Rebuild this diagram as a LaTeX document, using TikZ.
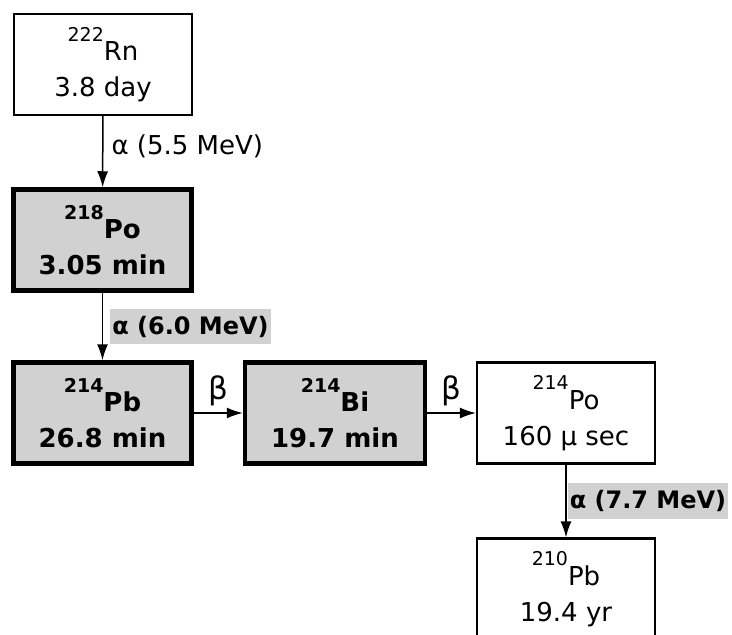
\documentclass[tikz,border=0pt]{standalone}
\usepackage{fontspec}
\setmainfont{DejaVu Sans}
\usetikzlibrary{arrows.meta,positioning}
\definecolor{decayshade}{gray}{0.82}
\newcommand{\nuclide}[2]{\raisebox{0.75em}{\fontsize{19}{19}\selectfont #1}#2}

\begin{document}
\begin{tikzpicture}[x=1pt,y=-1pt,>={Latex[length=16pt,width=11pt]},
  thinbox/.style={draw,line width=2.2pt,minimum width=178pt,minimum height=101pt,align=center,font=\fontsize{26}{36}\selectfont},
  heavybox/.style={thinbox,line width=4.5pt,fill=decayshade,font=\fontsize{26}{36}\selectfont\bfseries},
  decaylabel/.style={inner sep=3pt,font=\fontsize{26}{30}\selectfont},
  heavylabel/.style={decaylabel,fill=decayshade,inner xsep=2pt,inner ysep=7pt,font=\fontsize{24}{30}\selectfont\bfseries},
  decayarrow/.style={->,line width=1.5pt}]
\useasboundingbox (0,0) rectangle (732,635);
\clip (0,0) rectangle (732,635);
% chain of boxes
\node[thinbox] (rn222) at (103,64.5) {\nuclide{222}{Rn}\\3.8 day};
\node[heavybox] (po218) at (102.5,240) {\nuclide{218}{Po}\\3.05 min};
\node[heavybox] (pb214) at (102.5,413) {\nuclide{214}{Pb}\\26.8 min};
\node[heavybox,minimum width=180pt] (bi214) at (335,413) {\nuclide{214}{Bi}\\19.7 min};
\node[thinbox] (po214) at (566,413) {\nuclide{214}{Po}\\160 μ sec};
\node[thinbox] (pb210) at (566,589) {\nuclide{210}{Pb}\\19.4 yr};
% decays
\draw[decayarrow] (rn222) -- node[right=5pt,decaylabel,yshift=5pt] (alphaA) {α (5.5 MeV)} (po218);
\draw[decayarrow] (po218) -- node[right=7pt,heavylabel] (alphaB) {α (6.0 MeV)} (pb214);
\draw[decayarrow] (pb214) -- node[above=3pt,decaylabel,font=\fontsize{31}{31}\selectfont] (betaA) {β} (bi214);
\draw[decayarrow] (bi214) -- node[above=3pt,decaylabel,font=\fontsize{31}{31}\selectfont] (betaB) {β} (po214);
\draw[decayarrow] (po214) -- node[right=1pt,heavylabel] (alphaC) {α (7.7 MeV)} (pb210);
\end{tikzpicture}
\end{document}
